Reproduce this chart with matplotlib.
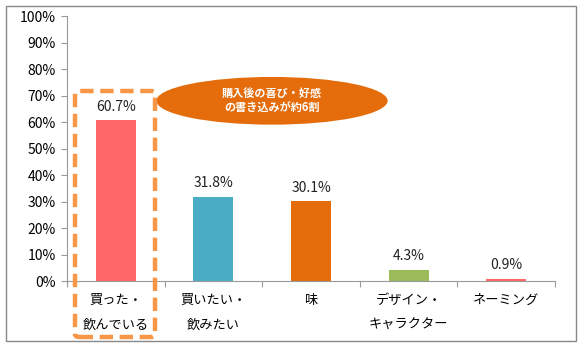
import matplotlib.pyplot as plt
from matplotlib.patches import Ellipse, FancyBboxPatch, Rectangle

plt.rcParams['font.family'] = ['Noto Sans CJK JP', 'DejaVu Sans']

categories = ['買った・\n飲んでいる', '買いたい・\n飲みたい', '味', 'デザイン・\nキャラクター', 'ネーミング']
values = [60.7, 31.8, 30.1, 4.3, 0.9]
colors = ['#FF6667', '#4BACC6', '#E46C0A', '#9BBB59', '#FF6667']
yticks = list(range(0, 101, 10))
note = '購入後の喜び・好感\nの書き込みが約6割'

fig = plt.figure(figsize=(5.83, 3.48), dpi=100)
ax = fig.add_axes([0.115, 0.1925, 0.837, 0.7615])

x = range(len(values))
ax.bar(x, values, width=0.41, color=colors)
for i, v in enumerate(values):
    ax.text(i, v + 2.5, f'{v}%', ha='center', va='bottom', fontsize=10, color='#222222')

ax.set_xlim(-0.5, len(values) - 0.5)
ax.set_ylim(0, 100)
ax.set_yticks(yticks)
ax.set_yticklabels([f'{t}%' for t in yticks], fontsize=10)
ax.set_xticks([i - 0.5 for i in range(len(values) + 1)])
ax.set_xticklabels([])
ax.set_xticks(list(x), minor=True)
ax.set_xticklabels(categories, minor=True, fontsize=9.5, linespacing=2.2, va='top')
ax.tick_params(axis='x', which='minor', length=0, pad=9)
ax.tick_params(axis='x', which='major', length=4, color='#999999')
ax.tick_params(axis='y', length=4, color='#999999', pad=4)
for s in ['top', 'right']:
    ax.spines[s].set_visible(False)
for s in ['left', 'bottom']:
    ax.spines[s].set_color('#999999')

# callout ellipse
ell = Ellipse((1.6, 68), 2.37, 18, facecolor='#E46C0A', edgecolor='none', zorder=5)
ax.add_patch(ell)
ax.text(1.6, 68, note, ha='center', va='center', color='white', fontsize=8,
        fontweight='bold', linespacing=1.25, zorder=6)

# dashed highlight box
box = FancyBboxPatch((75 / 583, 1 - 337 / 348), 80 / 583, 246 / 348,
                     boxstyle='round,pad=0,rounding_size=0.008',
                     transform=fig.transFigure, fill=False, edgecolor='#F79646',
                     linewidth=3.2, linestyle=(0, (3, 1.5)), clip_on=False, zorder=7)
fig.patches.append(box)

# outer frame
fig.patches.append(Rectangle((6 / 583, 7 / 348), 570 / 583, 335 / 348,
                             transform=fig.transFigure, fill=False,
                             edgecolor='#888888', linewidth=1))

fig.savefig('out.png', dpi=100)
